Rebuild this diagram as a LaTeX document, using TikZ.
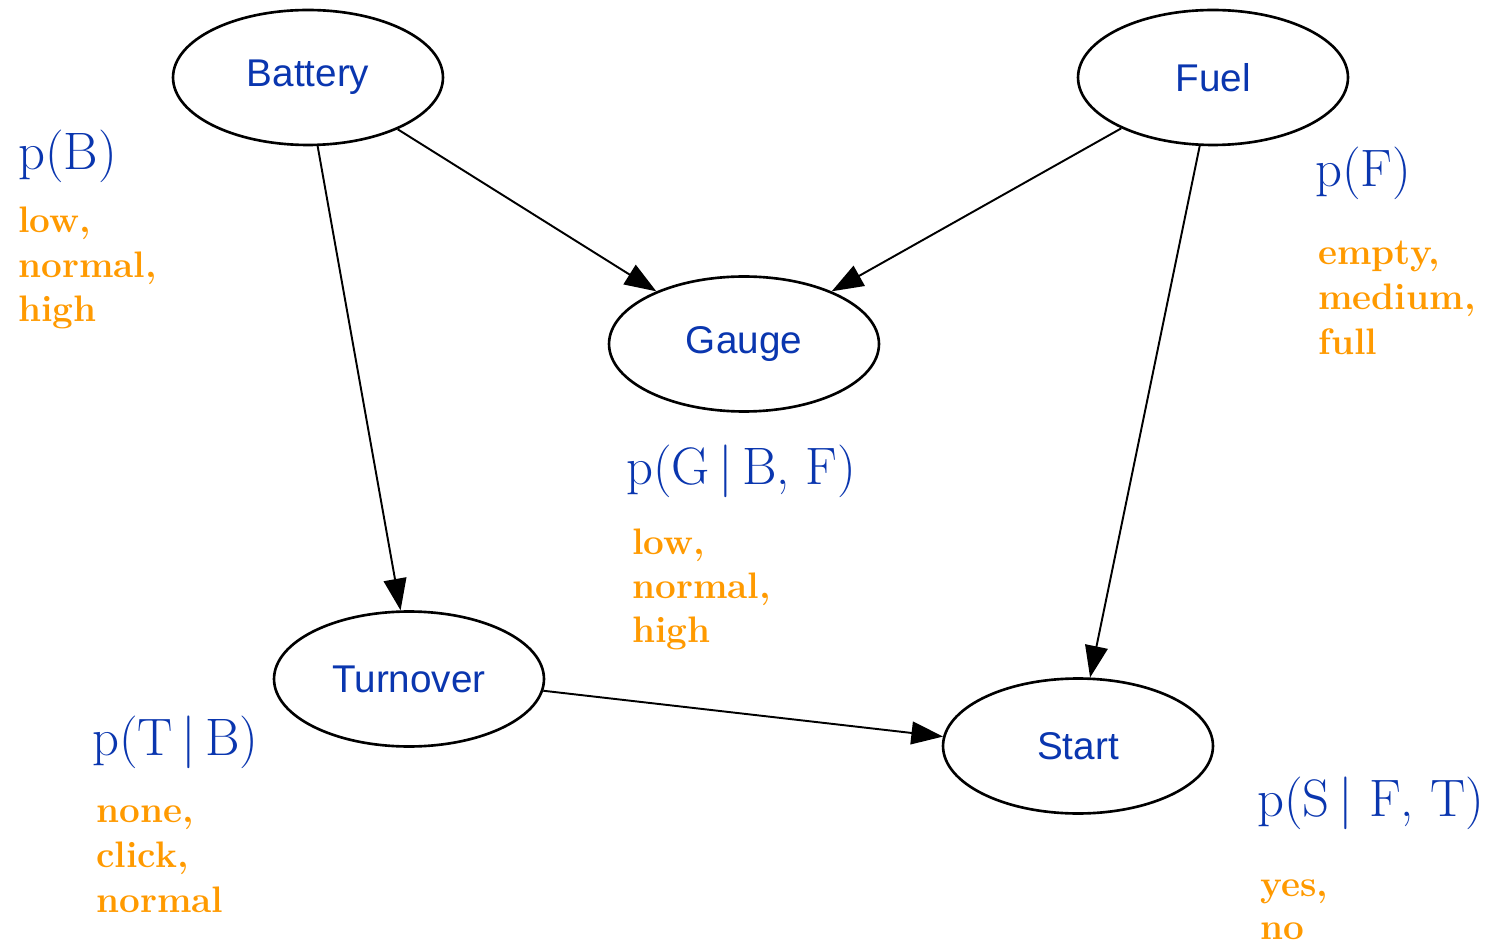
\documentclass[tikz,border=0pt]{standalone}
\usepackage{fontspec}
\newfontfamily\labelfont{Liberation Sans}
\usetikzlibrary{shapes.geometric,arrows.meta}
\definecolor{netblue}{RGB}{10,54,175}
\definecolor{stateorange}{RGB}{255,154,0}
\begin{document}
\begin{tikzpicture}[x=0.02cm,y=-0.02cm,
  var/.style={ellipse, draw, line width=1.5pt, minimum width=5.4cm, minimum height=2.7cm,
    inner sep=0pt, text=netblue, font=\labelfont\fontsize{22}{26}\selectfont},
  prob/.style={anchor=base west, inner sep=0pt, text=netblue, font=\fontsize{30}{36}\selectfont},
  val/.style={anchor=base west, inner sep=0pt, text=stateorange, font=\bfseries\fontsize{21}{25}\selectfont},
  link/.style={line width=1.1pt, -{Triangle[length=18pt,width=13pt]}}]
\useasboundingbox[fill=white] (0,0) rectangle (1490,945);

% variables
\node[var] (bat)  at (308,77.5) {Battery};
\node[var] (fuel) at (1213,77.5) {Fuel};
\node[var] (gau)  at (744,344) {Gauge};
\node[var] (turn) at (409,679) {Turnover};
\node[var] (sta)  at (1078,746) {Start};

% dependencies
\draw[link] (bat.-30)   -- (gau.149);
\draw[link] (fuel.-151) -- (gau.31);
\draw[link] (bat.-82)   -- (turn.97);
\draw[link] (fuel.-101) -- (sta.80);
\draw[link] (turn.-5)   -- (sta.176);

% distributions
\node[prob] (pb) at (18,170)   {p(B)};
\node[prob] (pf) at (1315,187) {p(F)};
\node[prob] (pg) at (626,484)  {p(G\,|\,B, F)};
\node[prob] (pt) at (92,755)   {p(T\,|\,B)};
\node[prob] (ps) at (1257,816) {p(S\,|\ F, T)};

% states
\node[val] (b1) at (18,233) {low,};
\node[val] (b2) at (18,278) {normal,};
\node[val] (b3) at (18,322) {high};

\node[val] (f1) at (1318,265) {empty,};
\node[val] (f2) at (1318,310) {medium,};
\node[val] (f3) at (1318,355) {full};

\node[val] (g1) at (632,554) {low,};
\node[val] (g2) at (632,598) {normal,};
\node[val] (g3) at (632,642) {high};

\node[val] (t1) at (96,822) {none,};
\node[val] (t2) at (96,867) {click,};
\node[val] (t3) at (96,912) {normal};

\node[val] (s1) at (1260,896) {yes,};
\node[val] (s2) at (1260,939) {no};
\end{tikzpicture}
\end{document}
